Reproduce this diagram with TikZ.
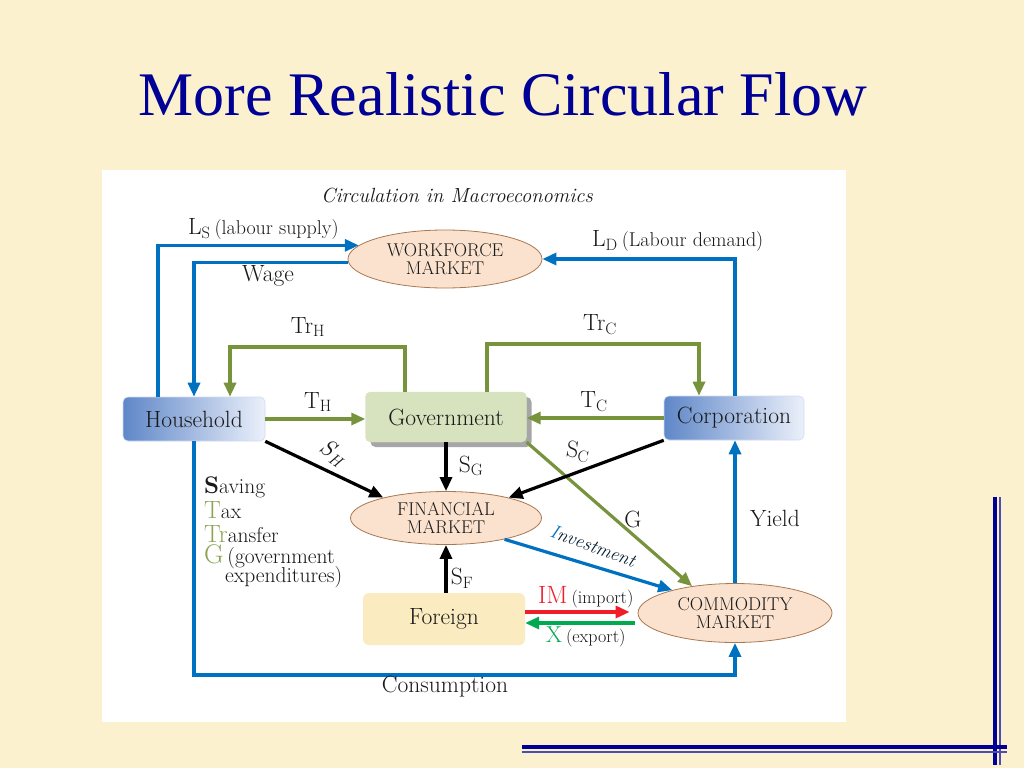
\documentclass[tikz,border=0pt]{standalone}
\usepackage{fontspec}
\newfontfamily\titlefont{Liberation Serif}
\usetikzlibrary{arrows.meta,shapes.geometric,shadows}
\definecolor{bgc}{RGB}{251,241,207}
\definecolor{navy}{RGB}{0,0,150}
\definecolor{lblue}{RGB}{0,112,192}
\definecolor{olv}{RGB}{119,147,60}
\definecolor{olvt}{RGB}{140,165,85}
\definecolor{impred}{RGB}{240,30,40}
\definecolor{expgreen}{RGB}{0,170,80}
\definecolor{ellfill}{RGB}{250,226,206}
\definecolor{elldraw}{RGB}{170,120,80}
\definecolor{govfill}{RGB}{214,227,190}
\definecolor{frgfill}{RGB}{250,236,192}
\definecolor{boxdark}{RGB}{95,135,200}
\definecolor{boxlight}{RGB}{235,240,250}
\definecolor{txt}{RGB}{25,25,25}
\newcommand\myfs[1]{\fontsize{#1}{#1}\selectfont}
\begin{document}
\begin{tikzpicture}[x=1pt,y=-1pt,
  tip/.style={-{Triangle[length=14pt,width=12pt]}},
  bflow/.style={tip,draw=lblue,line width=3.2pt},
  gflow/.style={tip,draw=olv,line width=3.2pt},
  kflow/.style={tip,draw=black,line width=3.2pt},
  market/.style={ellipse,draw=elldraw,line width=0.8pt,fill=ellfill,inner sep=0pt,align=center,font=\myfs{18.5},text=txt},
  bluebox/.style={rounded corners=5pt,left color=boxdark,right color=boxlight,draw=boxlight!80!boxdark,line width=0.6pt,font=\myfs{23.5},text=txt,inner sep=0pt},
  lab/.style={font=\myfs{23.5},text=txt,inner sep=0pt},
  leg/.style={font=\myfs{21.5},text=txt,inner sep=0pt,anchor=west},
]
\fill[bgc] (0,0) rectangle (1024,768);
\useasboundingbox (0,0) rectangle (1024,768);
\fill[white] (102,170) rectangle (846,722);

% title
\node[font=\titlefont\myfs{62},text=navy,inner sep=0pt] (title) at (503,94) {More Realistic Circular Flow};
\node[font=\itshape\myfs{20.5},text=txt,inner sep=0pt] (caption) at (457,195) {Circulation in Macroeconomics};

% nodes
\node[market,minimum width=194pt,minimum height=58pt] (wf) at (445,259) {WORKFORCE\\MARKET};
\node[bluebox,minimum width=142pt,minimum height=44pt] (hh) at (194,419) {Household};
\node[rounded corners=5pt,fill=govfill,draw=govfill,font=\myfs{23.5},text=txt,inner sep=0pt,
      minimum width=161pt,minimum height=50pt,
      drop shadow={shadow xshift=5pt,shadow yshift=-5pt,fill=black!35,opacity=1}] (gov) at (446,417) {Government};
\node[bluebox,minimum width=140pt,minimum height=44pt] (cp) at (734,418) {Corporation};
\node[market,minimum width=191pt,minimum height=53pt] (fin) at (446,518) {FINANCIAL\\MARKET};
\node[rounded corners=6pt,fill=frgfill,font=\myfs{23.5},text=txt,inner sep=0pt,
      minimum width=162pt,minimum height=52pt] (frg) at (444,619) {Foreign};
\node[market,minimum width=194pt,minimum height=59pt] (com) at (735,613) {COMMODITY\\MARKET};

% helper coordinates
\coordinate (lsx) at (158,0);
\coordinate (trhL) at (230,347);
\coordinate (trhR) at (405,347);
\coordinate (trcL) at (487,344);
\coordinate (trcR) at (699,344);
\coordinate (consR) at (735,675);
\coordinate (imy) at (0,612);
\coordinate (xy) at (0,623);

% labour market flows
\draw[bflow] (hh.north -| lsx) |- (wf.171);
\draw[bflow] (wf.182) -| (hh.north);
\draw[bflow] (cp.north -| consR) |- (wf.east);

% transfers and taxes
\draw[gflow] (gov.north -| trhR) |- (trhL) -- (hh.north -| trhL);
\draw[gflow] (gov.north -| trcL) |- (trcR) -- (cp.north -| trcR);
\draw[gflow] (hh.east) -- (gov.west |- hh.east);
\draw[gflow] (cp.west) -- (gov.east |- cp.west);
\draw[gflow] (gov.south east) -- (com.148);

% savings
\draw[kflow] (hh.south east) -- (fin.162);
\draw[kflow] (gov.south) -- (fin.north);
\draw[kflow] (cp.south west) -- (fin.18);
\draw[kflow] (frg.north -| fin.south) -- (fin.south);

% investment, yield, consumption
\draw[bflow] (fin.-20) -- (com.160);
\draw[bflow] (com.north) -- (cp.south -| com.north);
\draw[bflow] (hh.south) |- (consR) -- (com.south);

% trade
\draw[tip,draw=impred,line width=3.2pt,shorten >=8pt] (frg.east |- imy) -- (com.west |- imy);
\draw[tip,draw=expgreen,line width=3.2pt,shorten <=3pt] (com.west |- xy) -- (frg.east |- xy);

% labels
\node[lab,anchor=west] (lsl) at (188,229) {L\textsubscript{S}\,{\myfs{20}(labour supply)}};
\node[lab] (wagel) at (268,276) {Wage};
\node[lab,anchor=west] (ldl) at (592,241) {L\textsubscript{D}\,{\myfs{20}(Labour demand)}};
\node[lab] (trhl) at (308,327) {Tr\textsubscript{H}};
\node[lab] (trcl) at (600,325) {Tr\textsubscript{C}};
\node[lab] (thl) at (318,402) {T\textsubscript{H}};
\node[lab] (tcl) at (594,402) {T\textsubscript{C}};
\node[lab,rotate=-35] (shl) at (333,453) {\itshape S\textsubscript{H}};
\node[lab] (sgl) at (471,466) {S\textsubscript{G}};
\node[lab,rotate=-8] (scl) at (578,452) {S\textsubscript{C}};
\node[lab] (gl) at (633,519) {G};
\node[lab] (yieldl) at (775,518) {Yield};
\node[lab,rotate=-20,font=\itshape\myfs{19}] (invl) at (593,546) {\textcolor{lblue}{I}\textcolor{black!75!lblue}{nvestment}};
\node[lab] (sfl) at (462,578) {S\textsubscript{F}};
\node[lab,anchor=west] (iml) at (538,597) {\textcolor{impred}{\myfs{25}IM}\,{\myfs{18}(import)}};
\node[lab,anchor=west] (xl) at (546,637) {\textcolor{expgreen}{\myfs{23}X}\,{\myfs{18}(export)}};
\node[lab] (consl) at (445,687) {Consumption};

% legend
\node[leg] (leg1) at (204,487) {{\myfs{24}\bfseries S}aving};
\node[leg] (leg2) at (204,510) {{\myfs{25}\color{olvt}T}ax};
\node[leg] (leg3) at (204,534) {{\myfs{25}\color{olvt}Tr}ansfer};
\node[leg] (leg4) at (204,557) {{\myfs{27}\color{olvt}G}\,(government};
\node[leg] (leg5) at (225,577) {expenditures)};

% decorative corner lines
\draw[navy,line width=4pt] (995,497) -- (995,765);
\draw[navy!70,line width=1.5pt] (1000,497) -- (1000,765);
\draw[navy,line width=4pt] (522,747) -- (1007,747);
\draw[navy!70,line width=1.5pt] (522,752) -- (1007,752);
\end{tikzpicture}
\end{document}
